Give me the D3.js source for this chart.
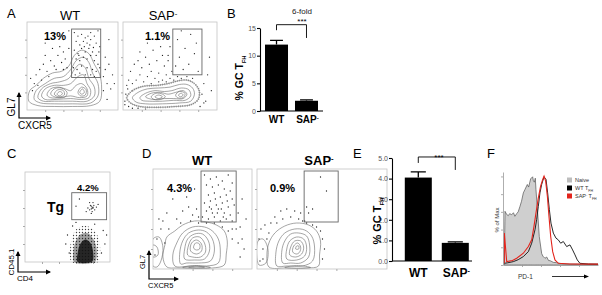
<!DOCTYPE html>
<html>
<head>
<meta charset="utf-8">
<script src="https://cdn.jsdelivr.net/npm/d3@7"></script>
<style>
  body { margin: 0; background: #fff; }
  svg { display: block; font-family: Arial, "Liberation Sans", Helvetica, sans-serif; }
</style>
</head>
<body>
<div id="chart"></div>
<script>
// ---------- bar chart data (B, E) ----------
const groups = ["WT", "SAP"];
const gcB = [12.0, 1.85];
const gcBErr = [0.75, 0.15];
const ticksB = [0, 5, 10, 15];
const bracketB = [15.6, 14.6, 13.2];   // top, left foot, right foot
const gcE = [4.05, 0.88];
const gcEErr = [0.28, 0.05];
const ticksE = [0, 1, 2, 3, 4, 5];
const bracketE = [5.05, 4.76, 4.42];

// ---------- histogram data (F), x = PD-1 channel, y = % of max ----------
const naive = [[1.4,1.9],[2.1,60.6],[3.9,57],[5.6,55.7],[7,58],[9.1,56.8],[11,59],[12.5,55],[14.4,58],[16,60],
  [17.9,66.3],[19.5,72],[21.4,81.4],[23,85],[25.6,90.9],[27,88],[29.1,97.3],[31.2,99.6],[32,95],[33,93.5],[34,98],
  [34.7,85.2],[36.5,58.7],[38.2,32],[40.7,13],[42,10],[44.2,7.6],[46,9],[48,5],[49.5,4.9],[53,3],[56.5,2.6],
  [62,1.5],[70.5,1.1],[85,0.8],[100,0.5]];
const wtTfh = [[1.4,1.9],[5,2.5],[10.9,3.8],[16,6],[21.4,9.5],[26.7,15.1],[30.2,24.6],[33.7,39.8],[35.4,51.1],
  [37.2,66.3],[38.9,81.4],[40.7,90.9],[43.2,99.6],[45.3,96.6],[47,81.4],[48.8,62.5],[50.5,47.3],[53,36],[55.8,30.3],
  [58.2,28.4],[60.7,24.6],[63.5,26.5],[67,20.8],[70.5,22.7],[73.3,17],[75.8,11.4],[78.2,5.7],[81,1.9],[90,1.1],[100,1]];
const sapTfh = [[1.4,1.9],[1.4,36],[3.9,3.8],[10,5],[14.4,7.6],[21.4,13.3],[26.7,20.8],[30.2,28.4],[32.6,43.6],
  [34.7,58.7],[37.2,75.7],[39.6,89],[41.8,96.6],[43.2,100.4],[44.9,94.7],[46.7,77.6],[48.4,54.9],[50.2,32.2],
  [52.3,15.1],[54.7,5.7],[58.2,1.9],[70,1.1],[100,1]];
const histLegend = ["Naive", "WT", "SAP"];

// ---------- flow plot data (channel units 0-100) ----------
const aWtGate = [49, 81, 37, 92];
const aWtRings = [
  [[2,10],[3,22],[10,28],[18,36],[28,42],[38,44],[46,50],[52,62],[60,68],[68,64],[74,52],[80,40],[82,25],[80,10],[70,5],[50,4],[30,4],[12,5]],
  [[8,12],[10,22],[20,30],[30,36],[40,38],[48,46],[54,56],[62,60],[68,54],[72,42],[78,30],[78,16],[70,8],[50,7],[30,7],[15,8]],
  [[12,14],[16,24],[26,30],[36,32],[46,36],[52,46],[58,52],[64,48],[68,36],[74,26],[74,16],[66,10],[50,10],[30,10],[18,10]],
  [[16,16],[20,24],[30,28],[40,28],[48,30],[56,38],[62,40],[66,30],[70,22],[68,14],[60,12],[48,13],[32,12],[20,12]],
  [[22,17],[26,24],[34,26],[42,24],[48,22],[54,28],[60,30],[66,24],[66,16],[58,14],[48,16],[36,14],[26,14]],
  [[26,18],[30,24],[38,25],[44,20],[42,15],[34,14]],
  [[56,20],[60,26],[65,23],[64,17],[59,16]],
  [[30,18],[34,23],[40,22],[41,17],[35,15]],
  [[58,20],[61,24],[63,20],[60,18]],
  [[33,18],[36,21],[39,19],[36,16]]
];
const aWtDots = [[52,88],[56,84],[60,86],[64,82],[70,88],[74,84],[78,90],[54,78],[58,74],[62,78],[66,76],[70,80],
  [76,76],[80,72],[52,68],[56,64],[60,70],[64,66],[68,70],[72,66],[76,62],[79,66],[54,58],[58,56],[62,60],[66,58],
  [70,62],[74,56],[78,52],[51,48],[55,46],[60,50],[66,48],[72,46],[76,44],[80,48],[53,40],[58,42],[64,40],[70,40],
  [74,38],[57,62],[63,72],[69,74],[73,71],[67,84],[10,40],[14,46],[18,52],[22,44],[26,56],[30,50],[34,62],[38,54],
  [42,58],[44,48],[20,62],[28,70],[36,72],[40,66],[46,70],[8,30],[4,36],[24,38],[32,46],[40,46],[16,34],[12,28],
  [6,22],[84,38],[86,46],[88,30],[90,52],[92,24],[94,40],[86,60],[84,22],[96,30],[88,12],[30,84],[40,80],[20,76],
  [90,80],[46,90]];

const aSapGate = [53, 84, 40, 92];
const aSapRings = [
  [[4,14],[10,22],[22,27],[36,28],[48,30],[58,33],[68,34],[76,30],[81,22],[80,12],[72,6],[56,4],[36,3],[18,4],[8,8]],
  [[10,14],[16,20],[26,24],[38,25],[50,26],[60,29],[68,29],[74,25],[76,18],[72,10],[60,8],[42,7],[24,7],[14,9]],
  [[18,14],[24,19],[34,22],[44,21],[52,22],[62,25],[70,23],[72,16],[66,11],[54,11],[42,10],[28,10],[20,11]],
  [[24,15],[30,19],[40,20],[48,18],[56,20],[64,22],[68,18],[64,13],[54,13],[44,13],[32,12]],
  [[30,15],[35,19],[42,18],[45,15],[40,12],[33,12]],
  [[56,17],[60,21],[66,19],[64,14],[58,14]],
  [[34,15],[38,17],[42,15],[38,13]],
  [[59,17],[62,19],[64,17],[61,15]]
];
const aSapDots = [[58,80],[66,70],[72,86],[60,60],[76,64],[56,50],[64,46],[70,52],[80,44],[62,90],[78,76],
  [10,30],[14,34],[18,40],[22,32],[26,38],[30,44],[34,36],[38,42],[42,34],[46,40],[50,36],[28,52],[20,48],[36,56],
  [44,50],[48,62],[24,60],[32,68],[40,72],[16,56],[8,44],[12,52],[30,30],[38,32],[46,32],[52,44],[54,34],[42,62],
  [36,80],[44,84],[26,76],[18,66],[50,72],[48,56],[6,34],[4,28],[58,38],[62,36],[68,38],[74,36],[86,30],[90,40],
  [94,22],[92,60],[88,10],[2,10],[3,18],[5,24],[2,6],[6,4],[10,2],[16,2],[24,1],[84,18],[86,8],[82,4]];

const cGate = [55, 96, 47, 77];
const cBlob = [
  [[55,0],[53,12],[55,26],[60,36],[68,40],[76,39],[84,32],[88,20],[88,6],[86,0]],
  [[58,0],[57,12],[60,24],[66,31],[74,32],[80,26],[84,16],[84,4],[82,0]],
  [[62,0],[62,10],[65,20],[71,25],[77,21],[80,12],[80,2],[78,0]]
];
const cDots = [[52,10],[50,30],[56,40],[94,20],[92,35],[90,10],[60,44],[82,42],[48,20],[96,30],
  [76,58],[78,62],[80,60],[82,58],[79,56],[77,63],[81,63],[74,60],[84,61],[78,54],[72,56],[86,64],[80,66],[76,66],
  [79,60],[80,61],[78,59],[60,62],[64,70]];

const dWtGate = [48.5, 84, 47, 98];
const dWtRings = [
  [[14,2],[10,12],[12,24],[14,32],[22,38],[30,44],[42,48],[54,47],[64,44],[72,38],[75,28],[74,15],[72,4],[60,1],[40,1],[24,1]],
  [[22,3],[20,14],[24,26],[30,36],[40,42],[52,42],[60,38],[66,30],[68,18],[66,6],[54,3],[38,3]],
  [[28,5],[27,16],[30,28],[36,36],[46,39],[54,37],[60,30],[62,18],[58,8],[46,6],[34,6]],
  [[32,10],[32,20],[35,30],[42,35],[50,35],[56,28],[57,18],[52,10],[42,9]],
  [[35,14],[36,24],[40,31],[47,32],[52,26],[53,17],[48,12],[40,12]],
  [[38,18],[39,26],[44,29],[49,25],[49,18],[44,15]],
  [[41,21],[43,26],[47,25],[47,20],[44,19]],
  [[30,1.5],[44,3.5],[58,1.5],[44,0.5]],
  [[36,1.8],[44,2.8],[52,1.8],[44,1]],
  [[0,3],[0,30],[6,32],[10,22],[8,8],[4,2]],
  [[0,12],[0,24],[4,22],[5,14]]
];
const dWtDots = [[52,94],[58,90],[64,92],[70,88],[76,94],[80,86],[54,84],[60,82],[66,84],[72,80],[78,78],[56,74],
  [62,76],[68,72],[74,74],[80,70],[52,66],[58,68],[64,64],[70,66],[76,62],[82,64],[54,58],[60,56],[66,60],[72,56],
  [78,54],[50,52],[56,50],[62,52],[68,48],[74,50],[80,48],[63,70],[69,60],[57,62],[75,68],[65,56],[59,60],[71,52],
  [44,60],[40,54],[46,52],[36,62],[30,58],[20,70],[14,56],[10,48],[24,50],[38,48],[86,56],[88,42],[84,40],[80,40],
  [76,38],[90,30],[86,26],[92,20],[88,12],[80,30],[8,40],[4,30],[6,50],[16,40],[2,14],[12,26],[70,42],[62,46],
  [54,46],[46,46],[28,46],[42,80],[34,72],[90,70],[94,50]];

const dSapGate = [47.5, 81.8, 47, 98];
const dSapRings = [
  [[12,2],[10,14],[12,26],[18,36],[28,43],[40,46],[52,44],[60,38],[64,28],[63,14],[62,3],[50,1],[30,1]],
  [[20,3],[19,16],[22,28],[28,36],[38,40],[48,39],[55,33],[58,22],[56,8],[46,3],[30,3]],
  [[26,6],[25,18],[28,28],[34,35],[42,36],[50,33],[53,24],[52,12],[44,6],[34,6]],
  [[30,10],[30,20],[33,28],[40,32],[47,30],[50,22],[48,13],[40,9]],
  [[33,14],[34,22],[38,28],[44,28],[47,22],[45,15],[39,12]],
  [[36,17],[37,23],[41,26],[44,22],[43,17],[40,15]],
  [[39,20],[40,23],[42,23],[42,20]],
  [[28,1.5],[40,3.5],[54,1.5],[40,0.5]],
  [[2,4],[1,28],[6,30],[11,20],[9,6]]
];
const dSapDots = [[50,62],[52,56],[56,60],[64,92],[70,78],[48,48],[4,40],[8,44],[12,36],[2,30],[6,20],[14,46],
  [20,46],[26,50],[34,52],[42,50],[46,48],[50,46],[56,44],[60,42],[64,38],[66,30],[68,20],[66,10],[10,30],[6,10],
  [3,8],[30,60],[38,58],[44,56],[24,58],[18,52]];

const svg = d3.select("#chart").append("svg").attr("width", 602).attr("height", 295);

// speckle textures for the dense CD4 blob in C
const defs = svg.append("defs");
[["speckleA", 3, 0.7], ["speckleB", 2, 0.75]].forEach(p => {
  const pat = defs.append("pattern").attr("id", p[0]).attr("patternUnits", "userSpaceOnUse")
    .attr("width", p[1]).attr("height", p[1]);
  pat.append("circle").attr("cx", p[1] / 2).attr("cy", p[1] / 2).attr("r", p[2]).attr("fill", "#111");
});

// superscript minus after a name
function addSap(t, sup) {
  t.append("tspan").text("SAP");
  t.append("tspan").attr("dy", -sup).attr("font-size", "60%").text("-");
}

function label(x, y, txt, size, weight, anchor) {
  return svg.append("text").attr("x", x).attr("y", y).attr("font-size", size)
    .attr("font-weight", weight || "normal").attr("text-anchor", anchor || "start").text(txt);
}

let clipN = 0;
function flowPlot(box, xMax, rings, dots, gate, fringe) {
  const x = d3.scaleLinear().domain([0, xMax]).range([box[0], box[1]]);
  const y = d3.scaleLinear().domain([0, 100]).range([box[3], box[2]]);
  const id = "clip" + (clipN++);
  svg.append("clipPath").attr("id", id).append("rect")
    .attr("x", box[0]).attr("y", box[2]).attr("width", box[1] - box[0]).attr("height", box[3] - box[2]);
  const g = svg.append("g");
  const inner = g.append("g").attr("clip-path", `url(#${id})`);
  const line = d3.line().x(d => x(d[0])).y(d => y(d[1])).curve(d3.curveCatmullRomClosed.alpha(0.5));

  if (fringe) {
    inner.append("path").attr("d", line(rings[0])).attr("fill", "none")
      .attr("stroke", "#222").attr("stroke-width", 2).attr("stroke-dasharray", "0.6 1.6").attr("opacity", 0.55);
  }
  inner.selectAll("path.ring").data(rings).enter().append("path").attr("class", "ring")
    .attr("d", line).attr("fill", "none").attr("stroke", "#6a6a6a").attr("stroke-width", 0.6);
  inner.selectAll("circle").data(dots).enter().append("circle")
    .attr("cx", d => x(d[0])).attr("cy", d => y(d[1])).attr("r", 0.65).attr("fill", "#222");

  g.append("rect").attr("x", box[0]).attr("y", box[2]).attr("width", box[1] - box[0]).attr("height", box[3] - box[2])
    .attr("fill", "none").attr("stroke", "#c4c4c4").attr("stroke-width", 0.8);
  g.append("g").attr("transform", `translate(${box[0]},0)`)
    .call(d3.axisLeft(y).tickValues([20, 40, 60, 80]).tickSize(2).tickFormat(""))
    .call(a => a.select(".domain").remove()).call(a => a.selectAll("line").attr("stroke", "#aaa"));
  g.append("g").attr("transform", `translate(0,${box[3]})`)
    .call(d3.axisBottom(x).tickValues([20, 40, 60, 80]).tickSize(2).tickFormat(""))
    .call(a => a.select(".domain").remove()).call(a => a.selectAll("line").attr("stroke", "#aaa"));

  if (gate) {
    g.append("rect").attr("x", x(gate[0])).attr("y", y(gate[3]))
      .attr("width", x(gate[1]) - x(gate[0])).attr("height", y(gate[2]) - y(gate[3]))
      .attr("fill", "none").attr("stroke", "#666").attr("stroke-width", 0.9);
  }
  return { x, y, g };
}

function axisArrow(cx, cy, up, right, yl, xl, size, lx, ly) {
  svg.append("path").attr("d", `M${cx},${cy - up}L${cx},${cy}L${cx + right},${cy}`)
    .attr("fill", "none").attr("stroke", "#000").attr("stroke-width", 1.2);
  svg.append("path").attr("d", `M${cx - 2.5},${cy - up + 4}L${cx},${cy - up - 1}L${cx + 2.5},${cy - up + 4}Z`).attr("fill", "#000");
  svg.append("path").attr("d", `M${cx + right - 4},${cy - 2.5}L${cx + right + 1},${cy}L${cx + right - 4},${cy + 2.5}Z`).attr("fill", "#000");
  svg.append("text").attr("transform", `translate(${lx},${ly}) rotate(-90)`).attr("text-anchor", "middle")
    .attr("font-size", size).text(yl);
  svg.append("text").attr("x", cx - 1).attr("y", cy + size + 1).attr("font-size", size).text(xl);
}

// ---------- panel A ----------
label(7, 18, "A", 13);
label(70, 20, "WT", 13, "normal", "middle");
addSap(label(163, 20, "", 13, "normal", "middle"), 4);
flowPlot([27, 118, 22, 110], 100, aWtRings, aWtDots, aWtGate);
flowPlot([123, 217, 22, 110], 100, aSapRings, aSapDots, aSapGate, true);
label(44, 40, "13%", 11, "bold");
label(145, 40, "1.1%", 11, "bold");
axisArrow(19, 118, 25, 31, "GL7", "CXCR5", 10, 15, 107);

// ---------- panel C ----------
label(7, 158, "C", 13);
const pc = flowPlot([25, 110, 172, 262], 100, [], cDots, cGate);
const blobLine = d3.line().x(d => pc.x(d[0])).y(d => pc.y(d[1])).curve(d3.curveCatmullRomClosed.alpha(0.5));
const blobFill = ["url(#speckleA)", "url(#speckleB)", "#111"];
pc.g.selectAll("path.blob").data(cBlob).enter().append("path").attr("class", "blob")
  .attr("d", blobLine).attr("fill", (d, i) => blobFill[i]).attr("opacity", (d, i) => [0.8, 1, 0.85][i]);
label(77, 190.5, "4.2%", 9.5, "bold");
label(47, 212, "Tg", 14, "bold");
axisArrow(18, 272, 20, 32, "CD45.1", "CD4", 8, 14, 262);

// ---------- panel D ----------
label(142, 158, "D", 13);
label(202, 165, "WT", 13, "bold", "middle");
addSap(label(319, 165, "", 13, "bold", "middle"), 4);
flowPlot([153, 252, 169, 269], 100, dWtRings, dWtDots, dWtGate);
flowPlot([257, 387, 169, 269], 131, dSapRings, dSapDots, dSapGate);
label(167, 192, "4.3%", 11, "bold");
label(270, 192, "0.9%", 11, "bold");
axisArrow(149, 279, 28, 29, "GL7", "CXCR5", 7.5, 145, 262);

// ---------- bar charts ----------
function barChart(o) {
  const x = d3.scaleBand().domain(groups).range(o.xr).paddingInner(o.pi).paddingOuter(o.po).align(o.al);
  const y = d3.scaleLinear().domain(o.dom).range(o.yr);
  const g = svg.append("g");
  const bw = x.bandwidth();
  g.selectAll("rect").data(o.vals).enter().append("rect")
    .attr("x", (d, i) => x(groups[i])).attr("y", d => y(d)).attr("width", bw)
    .attr("height", d => y(0) - y(d)).attr("fill", "#000");
  g.selectAll("path.err").data(o.vals).enter().append("path").attr("class", "err")
    .attr("d", (d, i) => {
      const cx = x(groups[i]) + bw / 2, top = y(d + o.err[i]), cw = bw * 0.28;
      return `M${cx},${y(d)}L${cx},${top}M${cx - cw},${top}L${cx + cw},${top}`;
    })
    .attr("stroke", "#000").attr("stroke-width", 1.3).attr("fill", "none");
  g.append("g").attr("transform", `translate(${o.xr[0]},0)`)
    .call(d3.axisLeft(y).tickValues(o.ticks).tickSize(3).tickSizeOuter(0).tickPadding(1))
    .attr("font-family", null).attr("font-size", o.tf)
    .call(a => a.selectAll("text").attr("fill", "#555"))
    .call(a => a.selectAll("line,path").attr("stroke-width", 1.1));
  g.append("line").attr("x1", o.xr[0]).attr("x2", o.xr[1]).attr("y1", y(0)).attr("y2", y(0))
    .attr("stroke", "#000").attr("stroke-width", 1.1);
  const l = x("WT") + bw / 2, r = x("SAP") + bw / 2;
  g.append("path").attr("d", `M${l},${y(o.br[1])}L${l},${y(o.br[0])}L${r},${y(o.br[0])}L${r},${y(o.br[2])}`)
    .attr("fill", "none").attr("stroke", "#000").attr("stroke-width", 0.9);
  g.append("text").attr("x", l).attr("y", o.catY).attr("text-anchor", "middle")
    .attr("font-size", o.cf).attr("font-weight", "bold").text("WT");
  addSap(g.append("text").attr("x", r + 1).attr("y", o.catY).attr("text-anchor", "middle")
    .attr("font-size", o.cf).attr("font-weight", "bold"), o.cf * 0.35);
  const yl = g.append("text").attr("transform", `translate(${o.ylx},${o.yly}) rotate(-90)`)
    .attr("text-anchor", "middle").attr("font-size", o.yf).attr("font-weight", "bold");
  yl.append("tspan").text("% GC T");
  yl.append("tspan").attr("font-size", "55%").attr("dy", o.yf * 0.3).text("FH");
  return { x, y, l, r };
}

label(227, 18, "B", 13);
barChart({ xr: [260, 323], pi: 0.233, po: 0.167, al: 0.5, dom: [0, 15], yr: [111, 28],
  vals: gcB, err: gcBErr, ticks: ticksB, tf: 7, br: bracketB, catY: 123, cf: 10, ylx: 243, yly: 78, yf: 10.5 });
label(302, 14, "6-fold", 8, "normal", "middle").attr("fill", "#222");
label(302, 24, "***", 8, "normal", "middle");

label(353, 158, "E", 13);
barChart({ xr: [392, 472], pi: 0.27, po: 0.216, al: 0.8, dom: [0, 5], yr: [261, 158],
  vals: gcE, err: gcEErr, ticks: ticksE, tf: 7, br: bracketE, catY: 277, cf: 12, ylx: 381, yly: 221, yf: 11 });
label(439, 159.5, "***", 8, "normal", "middle");

// ---------- panel F ----------
label(487, 158, "F", 13);
const hx = d3.scaleLinear().domain([0, 100]).range([503, 598]);
const hy = d3.scaleLinear().domain([0, 105]).range([265, 172]);
svg.append("path").datum(naive)
  .attr("d", d3.area().x(d => hx(d[0])).y0(hy(0)).y1(d => hy(d[1])))
  .attr("fill", "#cfcfcf").attr("stroke", "#555").attr("stroke-width", 0.7);
const hline = d3.line().x(d => hx(d[0])).y(d => hy(d[1]));
svg.append("path").datum(wtTfh).attr("d", hline).attr("fill", "none").attr("stroke", "#111").attr("stroke-width", 0.9);
svg.append("path").datum(sapTfh).attr("d", hline).attr("fill", "none").attr("stroke", "#e3241c").attr("stroke-width", 1.1);
svg.append("g").attr("transform", "translate(503,0)")
  .call(d3.axisLeft(hy).tickValues([0, 20, 40, 60, 80, 100]).tickSize(2).tickSizeOuter(0).tickFormat(""))
  .call(a => a.selectAll("line,path").attr("stroke", "#999").attr("stroke-width", 0.8));
svg.append("g").attr("transform", "translate(0,265)")
  .call(d3.axisBottom(hx).tickValues([20, 40, 60, 80]).tickSize(2).tickSizeOuter(0).tickFormat(""))
  .call(a => a.selectAll("line,path").attr("stroke", "#999").attr("stroke-width", 0.8));

const legColors = ["#bdbdbd", "#000", "#e3241c"];
const leg = svg.append("g");
leg.selectAll("rect").data(histLegend).enter().append("rect")
  .attr("x", 567).attr("y", (d, i) => 177.5 + i * 8).attr("width", 5).attr("height", 5)
  .attr("fill", (d, i) => legColors[i]);
leg.selectAll("text").data(histLegend).enter().append("text")
  .attr("x", 575).attr("y", (d, i) => 182 + i * 8).attr("font-size", 5.5).attr("fill", "#333")
  .each(function (d) {
    const t = d3.select(this);
    if (d === "Naive") { t.text("Naive"); return; }
    if (d === "SAP") {
      t.append("tspan").text("SAP");
      t.append("tspan").attr("dy", -2).attr("font-size", 3.5).text("-");
      t.append("tspan").attr("dy", 2).text(" T");
    } else {
      t.append("tspan").text("WT T");
    }
    t.append("tspan").attr("dy", 1.5).attr("font-size", 3.5).text("FH");
  });
svg.append("text").attr("transform", "translate(499,220) rotate(-90)").attr("text-anchor", "middle")
  .attr("font-size", 6).attr("fill", "#333").text("% of Max");
label(518, 279, "PD-1", 6.5).attr("fill", "#333");
svg.append("path").attr("d", "M552,276.5L586,276.5").attr("stroke", "#000").attr("stroke-width", 0.8);
svg.append("path").attr("d", "M584,274.5L589,276.5L584,278.5Z").attr("fill", "#000");
</script>
</body>
</html>
